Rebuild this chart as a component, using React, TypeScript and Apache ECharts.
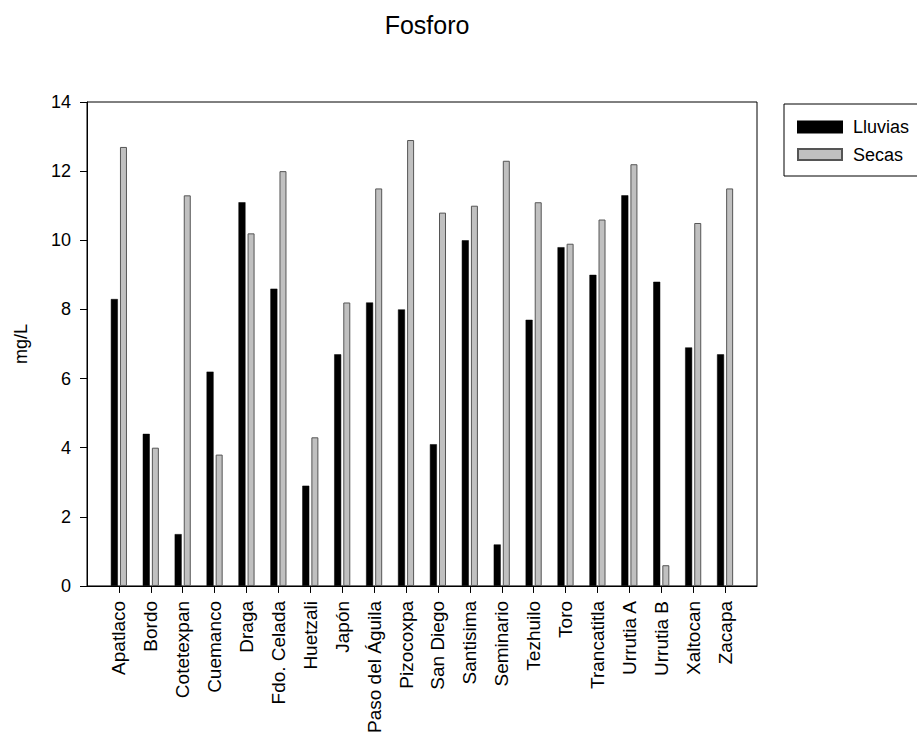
import React, { useEffect, useRef } from "react";
import * as echarts from "echarts";

const categories = [
  "Apatlaco", "Bordo", "Cotetexpan", "Cuemanco", "Draga", "Fdo. Celada", "Huetzali", "Japón",
  "Paso del Águila", "Pizocoxpa", "San Diego", "Santisima", "Seminario", "Tezhuilo", "Toro",
  "Trancatitla", "Urrutia A", "Urrutia B", "Xaltocan", "Zacapa",
];
const lluvias = [8.3, 4.4, 1.5, 6.2, 11.1, 8.6, 2.9, 6.7, 8.2, 8.0, 4.1, 10.0, 1.2, 7.7, 9.8, 9.0, 11.3, 8.8, 6.9, 6.7];
const secas = [12.7, 4.0, 11.3, 3.8, 10.2, 12.0, 4.3, 8.2, 11.5, 12.9, 10.8, 11.0, 12.3, 11.1, 9.9, 10.6, 12.2, 0.6, 10.5, 11.5];
const yTicks = [0, 2, 4, 6, 8, 10, 12, 14];

const FONT = "Liberation Sans, Arial, sans-serif";

export default function App() {
  const ref = useRef<HTMLDivElement>(null);
  useEffect(() => {
    document.body.style.margin = "0";
    if (!ref.current) return;
    const chart = echarts.init(ref.current, null, { renderer: "svg" });
    const axisCats = ["", ...categories, ""];
    const pad = (arr: number[]) => ["-", ...arr, "-"];
    chart.setOption({
      animation: false,
      backgroundColor: "#fff",
      title: {
        text: "Fosforo",
        left: 422,
        textAlign: "center",
        top: 7,
        textStyle: { fontFamily: FONT, fontSize: 25, fontWeight: "normal", color: "#000" },
      },
      grid: {
        left: 87,
        top: 102,
        width: 670,
        height: 484,
        show: true,
        borderColor: "#000",
        borderWidth: 1,
        backgroundColor: "transparent",
      },
      legend: {
        orient: "vertical",
        left: 792,
        top: 113,
        itemWidth: 44,
        itemHeight: 11,
        itemGap: 9.5,
        icon: "rect",
        textStyle: { fontFamily: FONT, fontSize: 18, color: "#000", lineHeight: 18, padding: [0, 0, 0, 6] },
        data: ["Lluvias", "Secas"],
      },
      graphic: [
        {
          type: "rect",
          shape: { x: 784, y: 104, width: 140, height: 72 },
          style: { fill: "none", stroke: "#000", lineWidth: 1 },
          silent: true,
        },
      ],
      xAxis: {
        type: "category",
        data: axisCats,
        boundaryGap: false,
        axisLine: { lineStyle: { color: "#000", width: 1 } },
        axisTick: {
          length: 7,
          lineStyle: { color: "#000" },
          interval: (idx: number, val: string) => val !== "",
        },
        axisLabel: {
          interval: 0,
          rotate: 90,
          margin: 15,
          fontFamily: FONT,
          fontSize: 19,
          color: "#000",
        },
        splitLine: { show: false },
      },
      yAxis: {
        type: "value",
        min: 0,
        max: 14,
        interval: 2,
        name: "mg/L",
        nameLocation: "middle",
        nameGap: 57,
        nameTextStyle: { fontFamily: FONT, fontSize: 18, color: "#000" },
        axisLine: { show: true, lineStyle: { color: "#000", width: 1 } },
        axisTick: { show: true, length: 7, lineStyle: { color: "#000" } },
        axisLabel: {
          margin: 16,
          fontFamily: FONT,
          fontSize: 18,
          color: "#000",
          customValues: yTicks,
        },
        splitLine: { show: false },
      },
      series: [
        {
          name: "Lluvias",
          type: "bar",
          data: pad(lluvias),
          barWidth: 7,
          barGap: "30%",
          itemStyle: { color: "#000", borderColor: "#000", borderWidth: 0.5 },
        },
        {
          name: "Secas",
          type: "bar",
          data: pad(secas),
          barWidth: 7,
          barGap: "30%",
          itemStyle: { color: "#c0c0c0", borderColor: "#555", borderWidth: 1 },
        },
      ],
    });
    return () => chart.dispose();
  }, []);
  return <div ref={ref} style={{ width: 917, height: 736 }} />;
}
